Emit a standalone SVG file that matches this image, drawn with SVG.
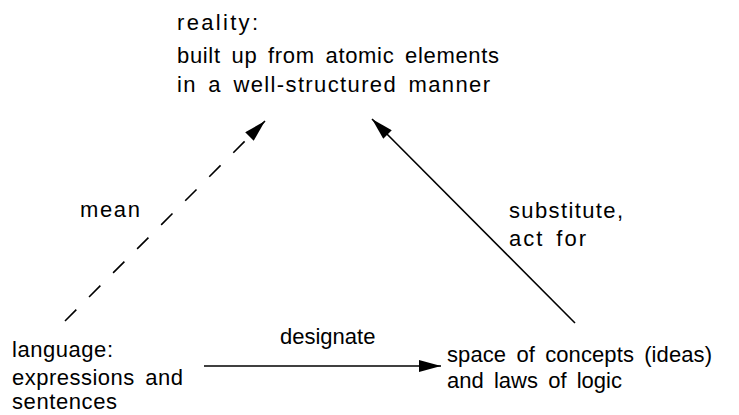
<svg xmlns="http://www.w3.org/2000/svg" width="739" height="415" viewBox="0 0 739 415">
<defs>
<style>
text{font-family:"Liberation Sans",Arial,sans-serif;font-size:22px;fill:#000;word-spacing:4px}
.ln{stroke:#000;stroke-width:1.6;fill:none}
</style>
<marker id="ah" viewBox="0 0 22 12" refX="22" refY="6" markerWidth="22" markerHeight="12" markerUnits="userSpaceOnUse" orient="auto">
<path d="M0,0 L22,6 L0,12 Z" fill="#000"/>
</marker>
</defs>
<g id="reality">
<text x="177" y="30" textLength="81" lengthAdjust="spacing">reality:</text>
<text x="177" y="63" textLength="322" lengthAdjust="spacing">built up from atomic elements</text>
<text x="177" y="92" textLength="313" lengthAdjust="spacing">in a well-structured manner</text>
</g>
<g id="language">
<text x="12" y="357" textLength="101" lengthAdjust="spacing">language:</text>
<text x="12" y="385" textLength="171" lengthAdjust="spacing">expressions and</text>
<text x="12" y="409" textLength="105" lengthAdjust="spacing">sentences</text>
</g>
<g id="concepts">
<text x="447" y="362" textLength="265" lengthAdjust="spacing">space of concepts (ideas)</text>
<text x="447" y="388" textLength="175" lengthAdjust="spacing">and laws of logic</text>
</g>
<g id="connectors">
<line class="ln" x1="65" y1="321" x2="265" y2="121" stroke-dasharray="16,18" marker-end="url(#ah)"/>
<line class="ln" x1="575" y1="323" x2="372" y2="119" marker-end="url(#ah)"/>
<line class="ln" x1="204" y1="366" x2="441" y2="366" marker-end="url(#ah)"/>
<text x="80" y="217" textLength="60" lengthAdjust="spacing">mean</text>
<text x="509" y="218" textLength="114" lengthAdjust="spacing">substitute,</text>
<text x="509" y="246" textLength="77" lengthAdjust="spacing">act for</text>
<text x="280" y="344">designate</text>
</g>
</svg>
